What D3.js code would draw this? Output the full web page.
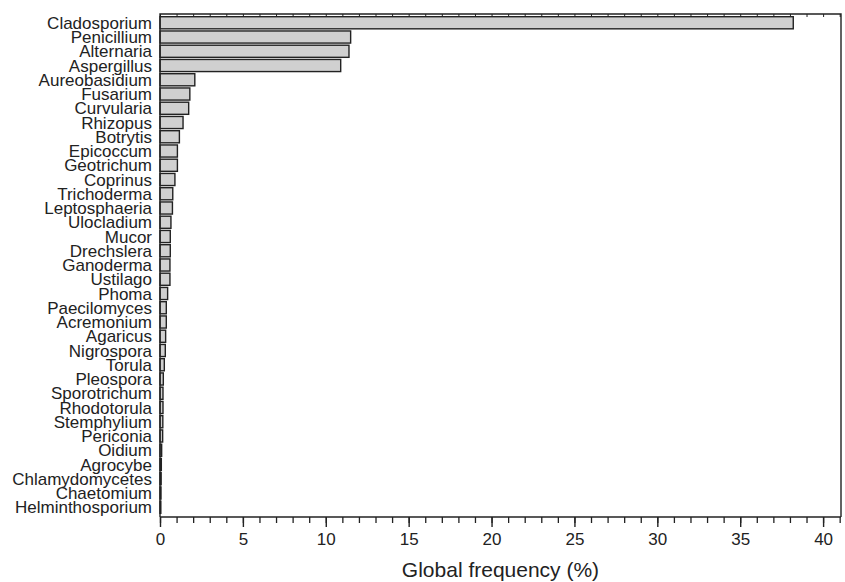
<!DOCTYPE html>
<html>
<head>
<meta charset="utf-8">
<script src="https://cdn.jsdelivr.net/npm/d3@7"></script>
<style>
  html, body { margin: 0; padding: 0; background: #fff; }
  svg { display: block; font-family: "Liberation Sans", Arial, sans-serif; }
</style>
</head>
<body>
<div id="chart"></div>
<script>
/* ── Data ─────────────────────────────────────────────── */

const genera = [
  'Cladosporium', 'Penicillium', 'Alternaria', 'Aspergillus', 'Aureobasidium',
  'Fusarium', 'Curvularia', 'Rhizopus', 'Botrytis', 'Epicoccum', 'Geotrichum',
  'Coprinus', 'Trichoderma', 'Leptosphaeria', 'Ulocladium', 'Mucor', 'Drechslera',
  'Ganoderma', 'Ustilago', 'Phoma', 'Paecilomyces', 'Acremonium', 'Agaricus',
  'Nigrospora', 'Torula', 'Pleospora', 'Sporotrichum', 'Rhodotorula', 'Stemphylium',
  'Periconia', 'Oidium', 'Agrocybe', 'Chlamydomycetes', 'Chaetomium', 'Helminthosporium'
];

const frequency = [
  38.2, 11.5, 11.4, 10.9, 2.1,
  1.8, 1.73, 1.39, 1.17, 1.05, 1.05,
  0.9, 0.77, 0.75, 0.66, 0.62, 0.62,
  0.6, 0.6, 0.46, 0.38, 0.38, 0.34,
  0.32, 0.26, 0.2, 0.18, 0.18, 0.17,
  0.16, 0.1, 0.08, 0.07, 0.06, 0.05
];

const majorTicks = [0, 5, 10, 15, 20, 25, 30, 35, 40];
const minorTicks = d3.range(0, 42, 1);

const xTitle = 'Global frequency (%)';

/* ── Layout ───────────────────────────────────────────── */

const W = 845, H = 582;
const mLeft = 160, mRight = 841, mTop = 14, mBottom = 517;
const ink = '#222';

const svg = d3.select('#chart')
  .append('svg')
  .attr('width', W)
  .attr('height', H);

const x = d3.scaleLinear().domain([0, 41.08]).range([mLeft, mRight]);
const y = d3.scaleBand().domain(genera).range([mTop + 2, mBottom - 3]).paddingInner(0.15).paddingOuter(0.05);

/* ── Bars ─────────────────────────────────────────────── */

svg.append('g')
  .selectAll('rect')
  .data(genera)
  .join('rect')
  .attr('x', x(0))
  .attr('y', d => y(d))
  .attr('width', (d, i) => x(frequency[i]) - x(0))
  .attr('height', y.bandwidth())
  .attr('fill', '#d0d0d0')
  .attr('stroke', ink)
  .attr('stroke-width', 1.4);

/* ── Category labels ──────────────────────────────────── */

svg.append('g')
  .selectAll('text')
  .data(genera)
  .join('text')
  .attr('x', mLeft - 8)
  .attr('y', d => y(d) + y.bandwidth() / 2)
  .attr('dy', '0.36em')
  .attr('text-anchor', 'end')
  .attr('font-size', 17)
  .attr('fill', ink)
  .text(d => d);

/* ── Frame ────────────────────────────────────────────── */

svg.append('path')
  .attr('d', `M${mLeft},${mBottom}V${mTop}H${mRight}V${mBottom}`)
  .attr('fill', 'none')
  .attr('stroke', ink)
  .attr('stroke-width', 1.4);

// small inward ticks along the top edge
const topAxis = svg.append('g')
  .attr('transform', `translate(0,${mTop})`)
  .call(d3.axisBottom(x).tickValues(minorTicks).tickSize(3).tickFormat(''));
topAxis.select('.domain').remove();
topAxis.selectAll('line').attr('stroke', ink).attr('stroke-width', 1);

/* ── Bottom axis ──────────────────────────────────────── */

const minorAxis = svg.append('g')
  .attr('transform', `translate(0,${mBottom})`)
  .call(d3.axisBottom(x).tickValues(minorTicks).tickSize(6).tickFormat('').tickSizeOuter(0));
minorAxis.select('.domain').attr('stroke', ink).attr('stroke-width', 1.6)
  .attr('d', `M${mLeft},0H${mRight}`);
minorAxis.selectAll('line').attr('stroke', ink).attr('stroke-width', 1.3);

const majorAxis = svg.append('g')
  .attr('transform', `translate(0,${mBottom})`)
  .call(d3.axisBottom(x).tickValues(majorTicks).tickSize(10).tickPadding(6).tickFormat(d3.format('d')));
majorAxis.select('.domain').remove();
majorAxis.selectAll('line').attr('stroke', ink).attr('stroke-width', 1.4);
majorAxis.selectAll('text')
  .attr('font-size', 17)
  .attr('font-family', '"Liberation Sans", Arial, sans-serif')
  .attr('fill', ink);

svg.append('text')
  .attr('x', (mLeft + mRight) / 2)
  .attr('y', 577)
  .attr('text-anchor', 'middle')
  .attr('font-size', 21)
  .attr('fill', ink)
  .text(xTitle);
</script>
</body>
</html>
